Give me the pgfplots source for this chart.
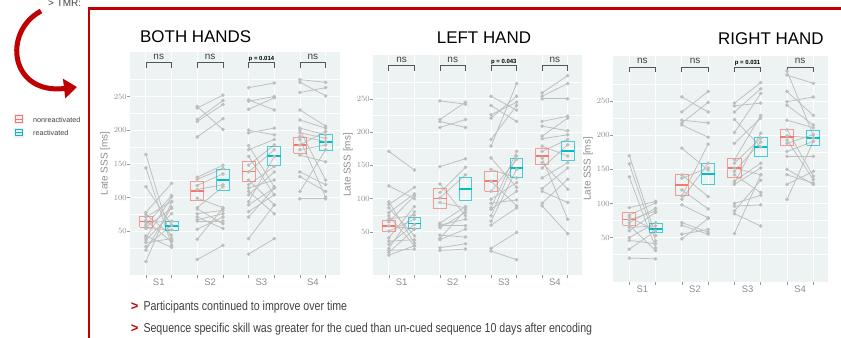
\documentclass[border=0pt]{standalone}
\usepackage{graphicx}
\usepackage{pgfplots}
\pgfplotsset{compat=1.18}
\usepackage{pgfplotstable}
\usetikzlibrary{arrows.meta}
\usepackage{fontspec}
\setmainfont{Liberation Sans}
\definecolor{nr}{HTML}{F8766D}
\definecolor{re}{HTML}{00BFC4}
\definecolor{panelbg}{RGB}{237,242,242}
\definecolor{ptgray}{RGB}{190,190,190}
\definecolor{labgray}{RGB}{140,140,140}
\definecolor{tickgray}{RGB}{150,150,150}
\definecolor{brkc}{RGB}{85,85,85}
\definecolor{darkred}{RGB}{192,0,0}
\definecolor{txtgray}{RGB}{64,64,64}

% ---- paired observations: session, nonreactivated, reactivated ----
\pgfplotstableread{
s a b
1 164 36
1 144 29
1 116 59
1 78 121
1 75 44
1 71 94
1 66 34
1 63 65
1 59 103
1 56 84
1 54 52
1 43 26
1 40 101
1 37 76
1 33 39
1 27 59
1 22 86
1 5 94
2 235 201
2 233 252
2 216 244
2 213 238
2 190 217
2 130 148
2 127 143
2 118 135
2 112 119
2 99 85
2 85 116
2 83 61
2 76 81
2 71 54
2 67 76
2 65 65
2 53 71
2 38 84
2 8 29
3 263 270
3 245 230
3 243 250
3 231 248
3 200 193
3 196 203
3 177 116
3 171 186
3 161 104
3 148 178
3 138 171
3 126 89
3 119 146
3 114 126
3 109 76
3 104 138
3 94 161
3 89 114
3 79 104
3 71 114
3 39 89
3 16 39
4 275 271
4 271 251
4 256 263
4 230 206
4 215 203
4 203 193
4 200 126
4 196 188
4 191 183
4 186 101
4 178 198
4 171 178
4 163 153
4 138 119
4 131 109
4 109 171
4 98 98
}\tabBoth

\pgfplotstableread{
s a b
1 171 143
1 119 100
1 95 33
1 91 117
1 86 44
1 79 107
1 74 29
1 69 75
1 65 104
1 59 54
1 51 69
1 41 88
1 36 38
1 31 61
1 25 80
1 22 24
1 19 54
1 15 29
2 247 242
2 219 245
2 216 207
2 207 219
2 148 160
2 122 74
2 109 147
2 101 136
2 94 86
2 63 88
2 60 69
2 59 59
2 56 79
2 45 42
2 40 83
2 38 54
2 26 32
2 22 24
3 254 233
3 240 216
3 226 245
3 221 254
3 189 240
3 179 273
3 161 117
3 144 131
3 126 89
3 111 159
3 99 124
3 93 98
3 86 171
3 84 111
3 74 164
3 66 144
3 60 86
3 25 49
3 21 8
4 259 285
4 254 273
4 250 250
4 216 224
4 209 202
4 194 221
4 190 196
4 179 164
4 171 189
4 161 69
4 154 114
4 146 181
4 131 154
4 115 146
4 111 94
4 93 129
4 89 47
}\tabLeft

\pgfplotstableread{
s a b
1 170 53
1 158 45
1 139 35
1 94 103
1 83 101
1 80 60
1 76 89
1 72 93
1 68 31
1 65 67
1 60 87
1 50 72
1 46 41
1 33 60
1 20 19
2 256 234
2 234 264
2 222 218
2 218 248
2 215 197
2 181 149
2 142 110
2 137 152
2 120 92
2 111 187
2 106 159
2 98 79
2 72 58
2 68 55
2 55 62
2 48 78
3 247 277
3 243 247
3 234 268
3 223 183
3 204 261
3 188 225
3 164 229
3 159 196
3 152 142
3 147 190
3 142 116
3 133 159
3 130 203
3 128 152
3 100 112
3 96 98
3 89 134
3 85 67
3 56 142
4 294 200
4 288 276
4 264 229
4 249 256
4 244 215
4 222 211
4 208 140
4 199 196
4 193 135
4 188 201
4 176 191
4 169 169
4 150 128
4 142 130
4 128 147
4 106 191
}\tabRight

\newcommand{\pairs}[1]{%
  \addplot[draw=ptgray, line width=0.75bp, quiver={u=0.5, v=\thisrow{b}-\thisrow{a}}]
    table[x expr=\thisrow{s}-0.25, y=a] {#1};
  \addplot[only marks, mark=*, mark size=1.6bp, ptgray] table[x expr=\thisrow{s}-0.25, y=a] {#1};
  \addplot[only marks, mark=*, mark size=1.6bp, ptgray] table[x expr=\thisrow{s}+0.25, y=b] {#1};
}
% crossbar: colour, left, right, mean, lower, upper
\newcommand{\cbar}[6]{%
  \addplot[#1, draw opacity=0.7, line width=1bp, line join=miter] coordinates {(#2,#5) (#3,#5) (#3,#6) (#2,#6) (#2,#5)};
  \addplot[#1, line width=1.8bp] coordinates {(#2,#4) (#3,#4)};
}
\newcommand{\brackets}{%
  \addplot[brkc, line width=0.75bp] coordinates {(0.75,292) (0.75,300) (1.25,300) (1.25,292)};
  \addplot[brkc, line width=0.75bp] coordinates {(1.75,292) (1.75,300) (2.25,300) (2.25,292)};
  \addplot[brkc, line width=0.75bp] coordinates {(2.75,292) (2.75,300) (3.25,300) (3.25,292)};
  \addplot[brkc, line width=0.75bp] coordinates {(3.75,292) (3.75,300) (4.25,300) (4.25,292)};
}
\newcommand{\siglabels}[1]{%
  \node[anchor=base, inner sep=0, text=txtgray, font=\fontsize{10}{10}\selectfont] at (axis cs:1,304.5) {ns};
  \node[anchor=base, inner sep=0, text=txtgray, font=\fontsize{10}{10}\selectfont] at (axis cs:2,304.5) {ns};
  \node[anchor=base, inner sep=0, text=black, font=\fontsize{6}{6}\selectfont\bfseries] at (axis cs:3,303.5) {#1};
  \node[anchor=base, inner sep=0, text=txtgray, font=\fontsize{10}{10}\selectfont] at (axis cs:4,304.5) {ns};
}

\pgfplotsset{
  panel/.style={
    scale only axis, xmin=0.44, xmax=4.53, ymin=-15, ymax=316,
    axis background/.style={fill=panelbg},
    axis line style={draw=none},
    xtick pos=bottom, ytick pos=left,
    xtick={0.75,1.25,1.75,2.25,2.75,3.25,3.75,4.25},
    xticklabels={,,,,,,,},
    extra x ticks={1,2,3,4},
    extra x tick labels={S1,S2,S3,S4},
    extra x tick style={major tick length=0pt, grid=none},
    ytick={50,100,150,200,250},
    minor ytick={25,75,125,175,225,275},
    grid=both,
    major grid style={white, line width=0.9bp},
    minor grid style={white, line width=0.45bp},
    tick align=outside,
    major tick length=2.7bp, minor tick length=0pt,
    tick style={tickgray, line width=0.6bp},
    yticklabel style={font=\fontsize{8.5}{8.5}\selectfont, text=labgray, inner xsep=0.6bp},
    xticklabel style={font=\fontsize{9.5}{9.5}\selectfont, text=labgray},
    ylabel={Late SSS [ms]},
    ylabel style={font=\fontsize{10}{10}\selectfont, text=labgray},
    clip=false,
  }
}

\begin{document}
\begin{tikzpicture}
\path[use as bounding box] (0bp,0bp) rectangle (841bp,-338bp);
\clip (0bp,0bp) rectangle (841bp,-338bp);

% red frame
\draw[darkred, line width=2.2bp] (89bp,-338bp) -- (89bp,-8.5bp) -- (841bp,-8.5bp);
% curved arrow
\draw[darkred, line width=5bp, -{Triangle[length=13bp, width=19bp]}]
  (41bp,-11bp) .. controls (2bp,-32bp) and (10bp,-95bp) .. (77bp,-87bp);
\node[anchor=base west, inner sep=0, text=txtgray, font=\fontsize{10}{10}\selectfont] at (48bp,-6.5bp) {> TMR:};

% legend
\fill[gray!12] (14bp,-114bp) rectangle (24bp,-124bp);
\draw[nr, line width=0.8bp] (15.5bp,-115.8bp) rectangle (22.5bp,-122.2bp);
\draw[nr, line width=0.8bp] (15.5bp,-119bp) -- (22.5bp,-119bp);
\fill[gray!12] (14bp,-127.5bp) rectangle (24bp,-137.5bp);
\draw[re, line width=0.8bp] (15.5bp,-129.3bp) rectangle (22.5bp,-135.7bp);
\draw[re, line width=0.8bp] (15.5bp,-132.5bp) -- (22.5bp,-132.5bp);
\node[anchor=west, inner sep=0, text=txtgray, font=\fontsize{7.2}{7.2}\selectfont] at (33bp,-119.5bp) {nonreactivated};
\node[anchor=west, inner sep=0, text=txtgray, font=\fontsize{7.2}{7.2}\selectfont] at (33bp,-133bp) {reactivated};

% titles
\node[anchor=base west, inner sep=0, font=\fontsize{17}{17}\selectfont] at (140bp,-42.7bp) {BOTH HANDS};
\node[anchor=base west, inner sep=0, font=\fontsize{17}{17}\selectfont] at (436.7bp,-43.3bp) {LEFT HAND};
\node[anchor=base west, inner sep=0, font=\fontsize{17}{17}\selectfont] at (718bp,-44bp) {RIGHT HAND};

% ---------- BOTH HANDS ----------
\begin{axis}[panel, at={(130bp,-52bp)}, anchor=north west, width=210bp, height=223bp]
\pairs{\tabBoth}
\cbar{nr}{0.625}{0.875}{64.4}{56}{72}
\cbar{re}{1.125}{1.375}{58}{51}{64}
\cbar{nr}{1.625}{1.875}{110}{95}{123.5}
\cbar{re}{2.125}{2.375}{126}{111}{141}
\cbar{nr}{2.625}{2.875}{138.5}{123.5}{154}
\cbar{re}{3.125}{3.375}{161.5}{147}{175.5}
\cbar{nr}{3.625}{3.875}{177.5}{165.5}{189}
\cbar{re}{4.125}{4.375}{182.5}{170.5}{194}
\brackets
\siglabels{p = 0.014}
\end{axis}

% ---------- LEFT HAND ----------
\begin{axis}[panel, at={(373bp,-55bp)}, anchor=north west, width=209bp, height=220bp]
\pairs{\tabLeft}
\cbar{nr}{0.625}{0.875}{58.5}{50}{66.5}
\cbar{re}{1.125}{1.375}{62.5}{54.5}{71}
\cbar{nr}{1.625}{1.875}{100}{84.5}{114.5}
\cbar{re}{2.125}{2.375}{114}{97}{131}
\cbar{nr}{2.625}{2.875}{126}{111}{141}
\cbar{re}{3.125}{3.375}{146}{131}{161}
\cbar{nr}{3.625}{3.875}{163.5}{151}{175}
\cbar{re}{4.125}{4.375}{171}{157}{186}
\brackets
\siglabels{p = 0.043}
\end{axis}

% ---------- RIGHT HAND ----------
\begin{axis}[panel, at={(613bp,-56bp)}, anchor=north west, width=215bp, height=226bp]
\pairs{\tabRight}
\cbar{nr}{0.625}{0.875}{76.5}{68}{86.5}
\cbar{re}{1.125}{1.375}{63}{57}{70.5}
\cbar{nr}{1.625}{1.875}{127.5}{112}{142}
\cbar{re}{2.125}{2.375}{143.5}{128.5}{158}
\cbar{nr}{2.625}{2.875}{152}{138}{165.5}
\cbar{re}{3.125}{3.375}{183}{169}{196.5}
\cbar{nr}{3.625}{3.875}{197}{185}{208.5}
\cbar{re}{4.125}{4.375}{195.5}{185}{206.5}
\brackets
\siglabels{p = 0.031}
\end{axis}

% bottom text
\node[anchor=base west, inner sep=0, text=darkred, font=\fontsize{13}{13}\selectfont\bfseries] at (130.7bp,-310.7bp) {>};
\node[anchor=base west, inner sep=0, text=txtgray, font=\fontsize{13}{13}\selectfont] at (143.3bp,-310.7bp) {\scalebox{0.82}[1]{Participants continued to improve over time}};
\node[anchor=base west, inner sep=0, text=darkred, font=\fontsize{13}{13}\selectfont\bfseries] at (130.7bp,-332.7bp) {>};
\node[anchor=base west, inner sep=0, text=txtgray, font=\fontsize{13}{13}\selectfont] at (143.3bp,-332.7bp) {\scalebox{0.82}[1]{Sequence specific skill was greater for the cued than un-cued sequence 10 days after encoding}};
\end{tikzpicture}
\end{document}
